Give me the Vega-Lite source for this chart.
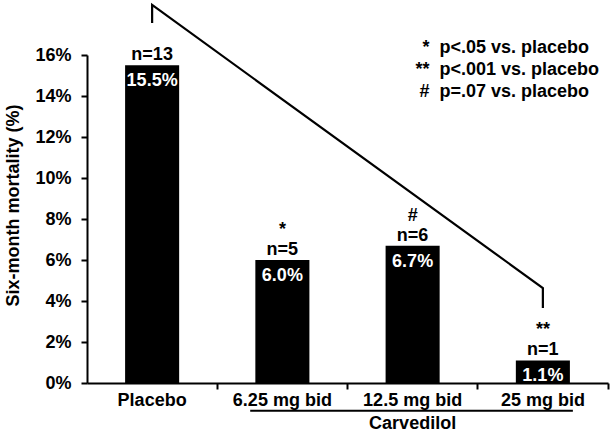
{
  "$schema": "https://vega.github.io/schema/vega-lite/v6.json",
  "width": 521,
  "height": 328,
  "autosize": {"type": "none"},
  "padding": {"left": 87, "top": 55, "right": 6, "bottom": 50},
  "background": "white",
  "config": {
    "view": {"stroke": null},
    "font": "Liberation Sans",
    "axis": {
      "domainColor": "black", "domainWidth": 2, "tickColor": "black", "tickWidth": 2,
      "labelColor": "black", "labelFont": "Liberation Sans", "labelFontWeight": "bold", "labelFontSize": 18,
      "titleColor": "black", "titleFont": "Liberation Sans", "titleFontWeight": "bold", "titleFontSize": 18,
      "grid": false
    },
    "text": {"font": "Liberation Sans", "fontWeight": "bold", "fontSize": 18}
  },
  "datasets": {
    "bars": [
      {"group": "Placebo", "mortality": 0.155, "n": "n=13", "sig": ""},
      {"group": "6.25 mg bid", "mortality": 0.060, "n": "n=5", "sig": "*"},
      {"group": "12.5 mg bid", "mortality": 0.067, "n": "n=6", "sig": "#"},
      {"group": "25 mg bid", "mortality": 0.011, "n": "n=1", "sig": "**"}
    ],
    "bracket": [
      {"group": "Placebo", "level": 0.1756, "step": 1},
      {"group": "Placebo", "level": 0.1844, "step": 2},
      {"group": "25 mg bid", "level": 0.0463, "step": 3},
      {"group": "25 mg bid", "level": 0.0366, "step": 4}
    ],
    "legend": [
      {"sym": "*\n**\n#", "label": "p<.05 vs. placebo\np<.001 vs. placebo\np=.07 vs. placebo"}
    ],
    "note": [{"label": "Carvedilol"}]
  },
  "layer": [
    {
      "data": {"name": "bars"},
      "mark": {"type": "bar", "color": "black", "width": {"band": 0.415}},
      "encoding": {
        "x": {
          "field": "group", "type": "nominal", "sort": null,
          "scale": {"paddingInner": 0, "paddingOuter": 0},
          "axis": {
            "title": null, "labelAngle": 0, "bandPosition": 1,
            "tickSize": 6, "labelPadding": 2,
            "encoding": {"ticks": {"update": {"y": {"value": -6}}}}
          }
        },
        "y": {
          "field": "mortality", "type": "quantitative",
          "scale": {"domain": [0, 0.16], "nice": false},
          "axis": {
            "title": "Six-month mortality (%)", "format": ".0%", "values": [0, 0.02, 0.04, 0.06, 0.08, 0.1, 0.12, 0.14, 0.16],
            "tickSize": 6, "labelPadding": 10, "titlePadding": 12, "titleY": 150,
            "encoding": {"ticks": {"update": {"x": {"value": 7}}}}
          }
        }
      }
    },
    {
      "data": {"name": "bars"},
      "mark": {"type": "text", "baseline": "alphabetic", "dy": -5, "color": "black"},
      "encoding": {
        "x": {"field": "group", "type": "nominal", "sort": null},
        "y": {"field": "mortality", "type": "quantitative"},
        "text": {"field": "n"}
      }
    },
    {
      "data": {"name": "bars"},
      "mark": {"type": "text", "baseline": "alphabetic", "dy": -25, "color": "black"},
      "encoding": {
        "x": {"field": "group", "type": "nominal", "sort": null},
        "y": {"field": "mortality", "type": "quantitative"},
        "text": {"field": "sig"}
      }
    },
    {
      "data": {"name": "bars"},
      "mark": {"type": "text", "baseline": "alphabetic", "dy": 21, "color": "white"},
      "encoding": {
        "x": {"field": "group", "type": "nominal", "sort": null},
        "y": {"field": "mortality", "type": "quantitative"},
        "text": {"field": "mortality", "type": "quantitative", "format": ".1%"}
      }
    },
    {
      "data": {"name": "bracket"},
      "mark": {"type": "line", "color": "black", "strokeWidth": 2.2, "clip": false},
      "encoding": {
        "x": {"field": "group", "type": "nominal", "sort": null},
        "y": {"field": "level", "type": "quantitative"},
        "order": {"field": "step", "type": "quantitative"}
      }
    },
    {
      "data": {"name": "legend"},
      "mark": {"type": "text", "align": "right", "baseline": "alphabetic", "lineBreak": "\n", "lineHeight": 22, "color": "black"},
      "encoding": {
        "x": {"datum": "12.5 mg bid", "bandPosition": 0.63},
        "y": {"datum": 0.161},
        "text": {"field": "sym"}
      }
    },
    {
      "data": {"name": "legend"},
      "mark": {"type": "text", "align": "left", "baseline": "alphabetic", "lineBreak": "\n", "lineHeight": 22, "color": "black"},
      "encoding": {
        "x": {"datum": "12.5 mg bid", "bandPosition": 0.706},
        "y": {"datum": 0.161},
        "text": {"field": "label"}
      }
    },
    {
      "data": {"name": "note"},
      "mark": {"type": "rule", "color": "black", "strokeWidth": 2, "x2Offset": 30},
      "encoding": {
        "x": {"datum": "6.25 mg bid", "bandPosition": 0.253},
        "x2": {"datum": "25 mg bid"},
        "y": {"datum": -0.0135}
      }
    },
    {
      "data": {"name": "note"},
      "mark": {"type": "text", "baseline": "alphabetic", "color": "black"},
      "encoding": {
        "x": {"datum": "12.5 mg bid"},
        "y": {"datum": -0.0225},
        "text": {"field": "label"}
      }
    }
  ]
}
